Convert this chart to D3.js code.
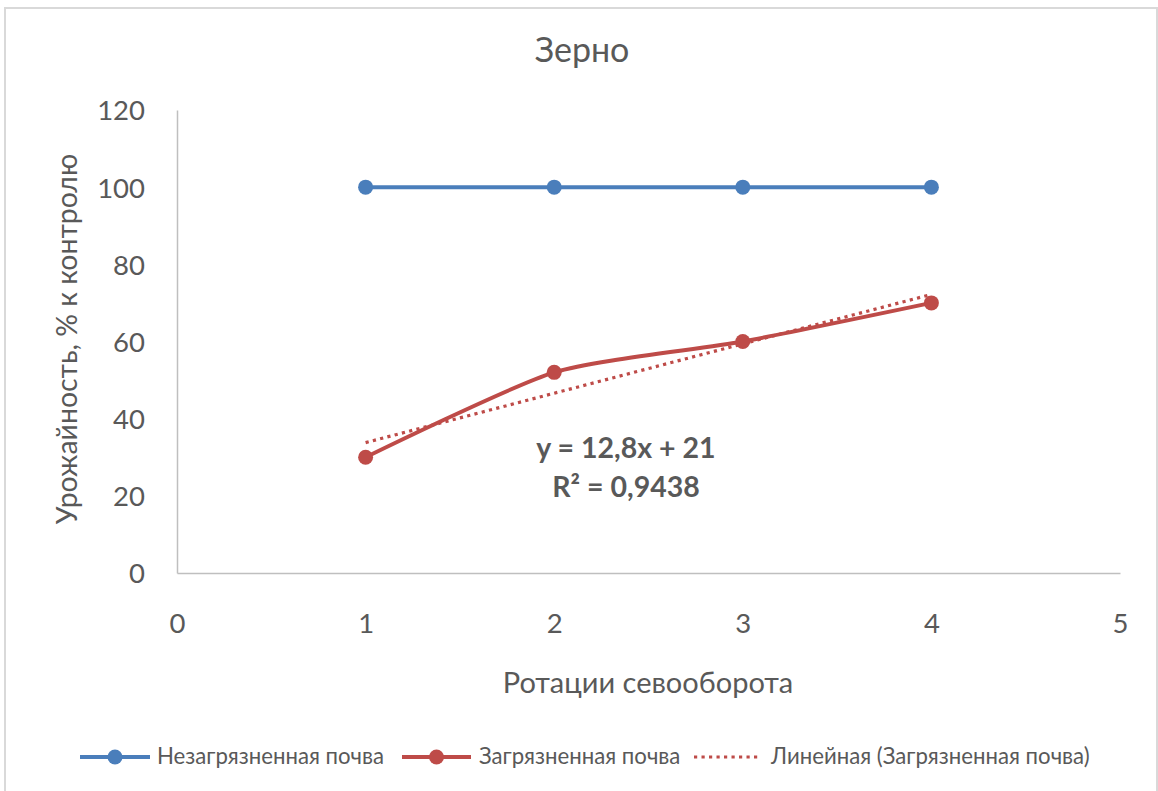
<!DOCTYPE html>
<html><head><meta charset="utf-8">
<script src="https://cdn.jsdelivr.net/npm/d3@7"></script>
<style>body{margin:0;background:#fff}svg{display:block}</style>
</head><body>
<svg id="c" width="1158" height="791"></svg>
<script>
const rotations = [1, 2, 3, 4];
const cleanSoil = [100, 100, 100, 100];
const pollutedSoil = [30, 52, 60, 70];
const xTicks = [0, 1, 2, 3, 4, 5];
const yTicks = [0, 20, 40, 60, 80, 100, 120];
const trendSlope = 12.8, trendIntercept = 21;
const names = ["Незагрязненная почва", "Загрязненная почва", "Линейная (Загрязненная почва)"];

const svg = d3.select("#c");
const font = "Lato, sans-serif";
const textCol = "#595959";
const blue = "#4a7ebb", red = "#be4b48";

svg.append("rect").attr("x",5).attr("y",8).attr("width",1152).attr("height",800)
  .attr("fill","#fff").attr("stroke","#d9d9d9").attr("stroke-width",2);

const x = d3.scaleLinear().domain([0,5]).range([177,1120]);
const y = d3.scaleLinear().domain([0,120]).range([573,110]);

// axes
const gx = svg.append("g").attr("transform","translate(0,573)")
  .call(d3.axisBottom(x).tickValues(xTicks).tickSize(0).tickPadding(0).tickFormat(d3.format("d")));
const gy = svg.append("g").attr("transform","translate(177,0)")
  .call(d3.axisLeft(y).tickValues(yTicks).tickSize(0).tickPadding(32).tickFormat(d3.format("d")));
[gx,gy].forEach(g=>{
  g.attr("font-family",font).attr("font-size",27.5);
  g.select(".domain").attr("stroke","#bfbfbf").attr("stroke-width",1.5);
  g.selectAll("text").attr("fill",textCol);
});
gx.selectAll("text").attr("dy",null).attr("y",60);
gy.selectAll("text").attr("dy","0.36em");

// titles
svg.append("text").attr("x",582).attr("y",62).attr("text-anchor","middle")
  .attr("font-size",34).attr("font-family",font).attr("fill",textCol).text("Зерно");
svg.append("text").attr("x",648).attr("y",693).attr("text-anchor","middle")
  .attr("font-size",29).attr("font-family",font).attr("fill",textCol).text("Ротации севооборота");
svg.append("text").attr("transform","translate(77,339) rotate(-90)").attr("text-anchor","middle")
  .attr("font-size",28.4).attr("font-family",font).attr("fill",textCol).text("Урожайность, % к контролю");

const ptsClean = rotations.map((r,i)=>[r,cleanSoil[i]]);
const ptsPoll = rotations.map((r,i)=>[r,pollutedSoil[i]]);

// trendline
const trendPts = [rotations[0], rotations[rotations.length-1]].map(r=>[r, trendSlope*r+trendIntercept]);
svg.append("path").datum(trendPts)
  .attr("d", d3.line().x(d=>x(d[0])).y(d=>y(d[1])))
  .attr("fill","none").attr("stroke",red).attr("stroke-width",3.2).attr("stroke-dasharray","3.2 4.3");

// series
svg.append("path").datum(ptsClean)
  .attr("d", d3.line().x(d=>x(d[0])).y(d=>y(d[1])))
  .attr("fill","none").attr("stroke",blue).attr("stroke-width",4);
svg.append("path").datum(ptsPoll)
  .attr("d", d3.line().curve(d3.curveCardinal.tension(0.35)).x(d=>x(d[0])).y(d=>y(d[1])))
  .attr("fill","none").attr("stroke",red).attr("stroke-width",4);

svg.selectAll(".mb").data(ptsClean).enter().append("circle")
  .attr("cx",d=>x(d[0])).attr("cy",d=>y(d[1])).attr("r",7.5).attr("fill",blue);
svg.selectAll(".mr").data(ptsPoll).enter().append("circle")
  .attr("cx",d=>x(d[0])).attr("cy",d=>y(d[1])).attr("r",7.5).attr("fill",red);

// equation
const eq = svg.append("text").attr("text-anchor","middle").attr("font-family",font)
  .attr("font-weight","bold").attr("font-size",28.5).attr("fill",textCol);
eq.append("tspan").attr("x",626).attr("y",458).text("y = 12,8x + 21");
eq.append("tspan").attr("x",626).attr("y",497).text("R² = 0,9438");

// legend
const lg = svg.append("g").attr("font-family",font).attr("font-size",22.2).attr("fill",textCol);
function legItem(x0, x1, col, dotted, label, tx){
  lg.append("line").attr("x1",x0).attr("x2",x1).attr("y1",757).attr("y2",757)
    .attr("stroke",col).attr("stroke-width",dotted ? 3.2 : 4)
    .attr("stroke-dasharray", dotted ? "3.2 4.3" : null);
  if(!dotted) lg.append("circle").attr("cx",(x0+x1)/2).attr("cy",757).attr("r",7.5).attr("fill",col);
  lg.append("text").attr("x",tx).attr("y",764).text(label);
}
legItem(80,150,blue,false,names[0],157);
legItem(402,471,red,false,names[1],479);
legItem(694,761,red,true,names[2],771);
</script>
</body></html>
